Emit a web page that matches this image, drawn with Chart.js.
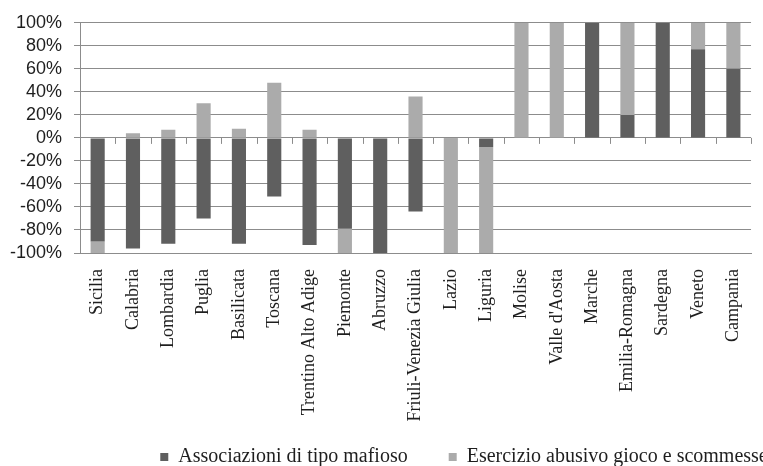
<!DOCTYPE html>
<html>
<head>
<meta charset="utf-8">
<script src="https://cdn.jsdelivr.net/npm/chart.js@4"></script>
<style>
  html, body { margin: 0; padding: 0; background: #fff; }
  #wrap { width: 763px; height: 466px; }
</style>
</head>
<body>
<div id="wrap"><canvas id="c" width="763" height="466"></canvas></div>
<script>
// Regions, in display order
const regions = [
  'Sicilia', 'Calabria', 'Lombardia', 'Puglia', 'Basilicata', 'Toscana',
  'Trentino Alto Adige', 'Piemonte', 'Abruzzo', 'Friuli-Venezia Giulia',
  'Lazio', 'Liguria', 'Molise', "Valle d'Aosta", 'Marche', 'Emilia-Romagna',
  'Sardegna', 'Veneto', 'Campania'
];

// Signed shares (%) per crime type
const associazioniMafiose = [-90, -96, -92, -70, -92, -51, -93, -79, -100, -64, -1, -8, 0, 0, 100, 20, 100, 77, 60];
const esercizioAbusivo    = [-10, 4, 7, 30, 8, 48, 7, -21, 0, 36, -99, -92, 100, 100, 0, 80, 0, 23, 40];

// Y axis ticks
const yTicks = [-100, -80, -60, -40, -20, 0, 20, 40, 60, 80, 100];

const GRID = '#8c8c8c';
const TEXT = '#1e1e1e';

// Small tick marks along the zero line, between categories
const zeroLineTicks = {
  id: 'zeroLineTicks',
  afterDatasetsDraw(chart) {
    const x = chart.scales.x, y = chart.scales.y;
    const y0 = y.getPixelForValue(0);
    const ctx = chart.ctx;
    const n = regions.length;
    const step = (x.right - x.left) / n;
    ctx.save();
    ctx.strokeStyle = GRID;
    ctx.lineWidth = 1;
    ctx.beginPath();
    for (let i = 1; i <= n; i++) {
      const px = Math.round(x.left + i * step) + 0.5;
      ctx.moveTo(px, y0);
      ctx.lineTo(px, y0 + 6);
    }
    ctx.stroke();
    ctx.restore();
  }
};

// Move the legend row right, and start its box a little higher
const legendOffset = {
  id: 'legendOffset',
  afterLayout(chart) {
    const lg = chart.legend;
    if (lg) {
      lg.left += 83; lg.right += 83;
      lg.top -= 17;
      lg.height = lg.bottom - lg.top;
    }
  }
};

new Chart(document.getElementById('c'), {
  type: 'bar',
  data: {
    labels: regions,
    datasets: [
      {
        label: 'Associazioni di tipo mafioso',
        data: associazioniMafiose,
        backgroundColor: '#5f5f5f',
        barPercentage: 0.4,
        categoryPercentage: 1.0
      },
      {
        label: 'Esercizio abusivo gioco e scommesse',
        data: esercizioAbusivo,
        backgroundColor: '#ababab',
        barPercentage: 0.4,
        categoryPercentage: 1.0
      }
    ]
  },
  options: {
    responsive: false,
    animation: false,
    layout: { padding: { top: 20, right: 1, left: 0, bottom: 0 } },
    plugins: {
      tooltip: { enabled: false },
      legend: {
        position: 'bottom',
        maxHeight: 43,
        labels: {
          boxWidth: 8,
          boxHeight: 8,
          padding: 41,
          color: TEXT,
          font: { family: 'Liberation Serif', size: 20 }
        }
      }
    },
    scales: {
      x: {
        stacked: true,
        grid: { display: false },
        border: { display: true, color: GRID },
        ticks: {
          autoSkip: false,
          maxRotation: 90,
          minRotation: 90,
          padding: 8,
          color: TEXT,
          font: { family: 'Liberation Serif', size: 18 }
        },
        afterFit(scale) { scale.height = 170; }
      },
      y: {
        stacked: true,
        min: -100,
        max: 100,
        afterBuildTicks(scale) { scale.ticks = yTicks.map(v => ({ value: v })); },
        grid: { color: GRID, tickLength: 6, drawTicks: true },
        border: { display: true, color: GRID },
        ticks: {
          autoSkip: false,
          padding: 12,
          color: TEXT,
          font: { family: 'Liberation Sans', size: 18 },
          callback: v => v + '%'
        },
        afterFit(scale) { scale.width = 80; }
      }
    }
  },
  plugins: [zeroLineTicks, legendOffset]
});
</script>
</body>
</html>
